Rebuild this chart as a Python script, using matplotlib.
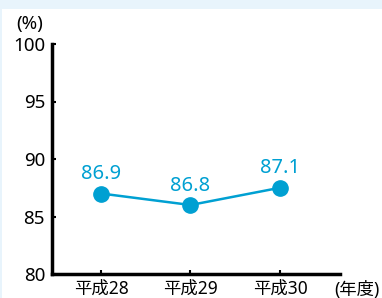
import matplotlib as mpl
mpl.use('Agg')
import matplotlib.pyplot as plt
from matplotlib.patches import Rectangle

years = ['平成28', '平成29', '平成30']
plotted = [87.0, 86.0, 87.5]  # marker heights as drawn in the source figure
labels = ['86.9', '86.8', '87.1']
yticks = [80, 85, 90, 95, 100]

lineColor = '#00a0d2'
bgColor = '#e8f4fc'

plt.rcParams['font.family'] = ['Noto Sans', 'Noto Sans CJK JP', 'DejaVu Sans']

fig = plt.figure(figsize=(3.82, 2.98), dpi=100, facecolor=bgColor)
#white panel, leaving a thin light blue frame at top and left
fig.patches.append(Rectangle((2/382, 0), 1, 1 - 9/298, transform=fig.transFigure,
	facecolor='white', edgecolor='none', zorder=-10))

ax = fig.add_axes([52/382, 24/298, 288/382, 230/298])
ax.set_facecolor('none')

x = list(range(len(years)))
ax.plot(x, plotted, color=lineColor, lw=1.8, marker='o', ms=11, clip_on=False)
for xi, yi, lab in zip(x, plotted, labels):
	ax.annotate(lab, (xi, yi), xytext=(0, 14), textcoords='offset points',
		ha='center', va='center', fontsize=14.5, color=lineColor)

ax.set_xlim(-0.547, 2.67)
ax.set_ylim(80, 100)
ax.set_yticks(yticks)
ax.set_xticks(x)
ax.set_xticklabels(years)

for side in ['top', 'right']:
	ax.spines[side].set_visible(False)
for side in ['left', 'bottom']:
	ax.spines[side].set_linewidth(2.5)
	ax.spines[side].set_capstyle('projecting')

ax.tick_params(axis='y', direction='in', length=3, width=1.5, labelsize=13.5, pad=5)
ax.tick_params(axis='x', direction='in', length=3, width=1.5, labelsize=12.5, pad=4)

fig.text(30/382, 1 - 24/298, '(%)', ha='center', va='center', fontsize=13.5)
fig.text(357/382, 1 - 281/298, '(年度)', ha='center', va='top', fontsize=12.5)

plt.savefig('out.png', dpi=100, facecolor=fig.get_facecolor())
